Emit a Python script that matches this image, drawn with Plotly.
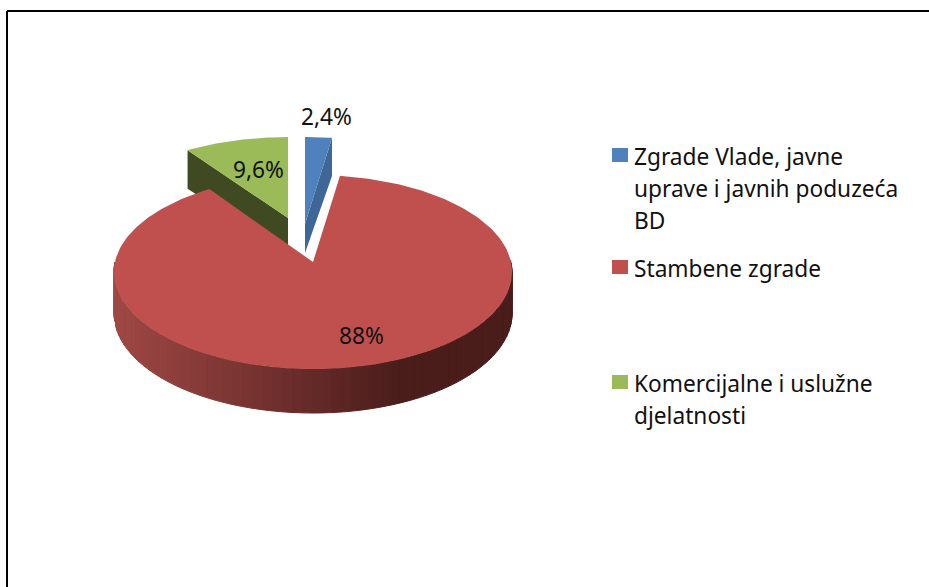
import math
import plotly.graph_objects as go

categories = ["Zgrade Vlade, javne uprave i javnih poduzeća BD", "Stambene zgrade", "Komercijalne i uslužne djelatnosti"]
values = [2.4, 88.0, 9.6]
value_labels = ["2,4%", "88%", "9,6%"]
legend_lines = [["Zgrade Vlade, javne", "uprave i javnih poduzeća", "BD"], ["Stambene zgrade"], ["Komercijalne i uslužne", "djelatnosti"]]

TOP = ["#4F81BD", "#C0504D", "#9BBB59"]
SIDE = ["#3E6697", None, "#3F4A23"]
FONT = "Noto Sans"
FS = 22.7

RX, RY, K = 198.0, 96.0, 0.103
apex = [(305, 224), (313, 262), (288, 218)]
far_scale = [1.0, 1.0, 0.93]
width_scale = [1.0, 1.0, 0.97]
apex_depth = [29, 0, 36]


def depth(v):
    return 41 - 3 * v


def proj(i, angle_deg):
    t = math.radians(angle_deg)
    u, v = math.sin(t), math.cos(t)
    w = 1 + K * v
    return apex[i][0] + width_scale[i] * RX * u / w, apex[i][1] - far_scale[i] * RY * v / w, v


def poly(xs, ys, color, width=0):
    return go.Scatter(x=xs + xs[:1], y=ys + ys[:1], mode="lines", fill="toself", fillcolor=color,
                      line=dict(color=color, width=width), hoverinfo="skip", showlegend=False)


total = sum(values)
starts = []
acc = 0.0
for val in values:
    starts.append(acc)
    acc += val / total * 360.0

fig = go.Figure()


def arc(i, n):
    a0 = starts[i]
    a1 = a0 + values[i] / total * 360.0
    return [proj(i, a0 + (a1 - a0) * j / n) for j in range(n + 1)]


# back slices: cut walls below the top faces, then the faces
for i in (0, 2):
    pts = arc(i, 30)
    rim = pts[-1] if i == 0 else pts[0]
    ax, ay = apex[i]
    fig.add_trace(poly([ax, rim[0], rim[0], ax], [ay, rim[1], rim[1] + depth(rim[2]), ay + apex_depth[i]], SIDE[i]))
    fig.add_trace(poly([ax] + [p[0] for p in pts], [ay] + [p[1] for p in pts], TOP[i]))

# large slice: graded outer wall
pts = arc(1, 240)
front = [p for p in pts if p[2] <= 0.02]
front.sort(key=lambda p: p[0])
BANDS = 60
step = max(1, len(front) // BANDS)


def wall_colour(x):
    f = min(1.0, max(0.0, (x - 113) / (400 - 113)))
    c0, c1 = (160, 72, 69), (74, 29, 27)
    return "rgb(%d,%d,%d)" % tuple(round(c0[k] + (c1[k] - c0[k]) * f) for k in range(3))


for j in range(0, len(front) - 1, step):
    seg = front[j:j + step + 1]
    top_x = [p[0] for p in seg]
    top_y = [p[1] for p in seg]
    bot_y = [p[1] + depth(p[2]) for p in seg]
    xm = sum(top_x) / len(top_x)
    fig.add_trace(poly(top_x + top_x[::-1], top_y + bot_y[::-1], wall_colour(xm), 1))

ax, ay = apex[1]
fig.add_trace(poly([ax] + [p[0] for p in pts], [ay] + [p[1] for p in pts], TOP[1]))

annotations = []


def text(x, y, s, anchor="left"):
    annotations.append(dict(x=x, y=y, xref="x", yref="y", text=s, showarrow=False, xanchor=anchor, yanchor="middle",
                            align=anchor, borderpad=0, font=dict(family=FONT, size=FS, color="#111111")))


text(326, 116, value_labels[0], "center")
text(361, 335, value_labels[1], "center")
text(258, 169, value_labels[2], "center")

line_y = [[156, 188, 220], [268], [383, 415]]
shapes = []
for i, lines in enumerate(legend_lines):
    for s, y in zip(lines, line_y[i]):
        text(633, y, s)
    y0 = line_y[i][0]
    shapes.append(dict(type="rect", xref="x", yref="y", x0=612, x1=628, y0=y0 - 8, y1=y0 + 6,
                       fillcolor=TOP[i], line=dict(width=0)))

# frame
for x0, y0, x1, y1 in [(7, 11, 929, 11), (7, 11, 7, 587)]:
    shapes.append(dict(type="line", xref="x", yref="y", x0=x0, y0=y0, x1=x1, y1=y1, line=dict(color="black", width=2)))

fig.update_layout(
    width=929, height=587, margin=dict(l=0, r=0, t=0, b=0), paper_bgcolor="white", plot_bgcolor="white",
    xaxis=dict(range=[0, 929], visible=False, fixedrange=True),
    yaxis=dict(range=[587, 0], visible=False, fixedrange=True),
    showlegend=False, annotations=annotations, shapes=shapes,
)
fig.write_html("out.html", config=dict(displayModeBar=False),
               post_script="document.body.style.margin='0';document.body.style.overflow='hidden';")
